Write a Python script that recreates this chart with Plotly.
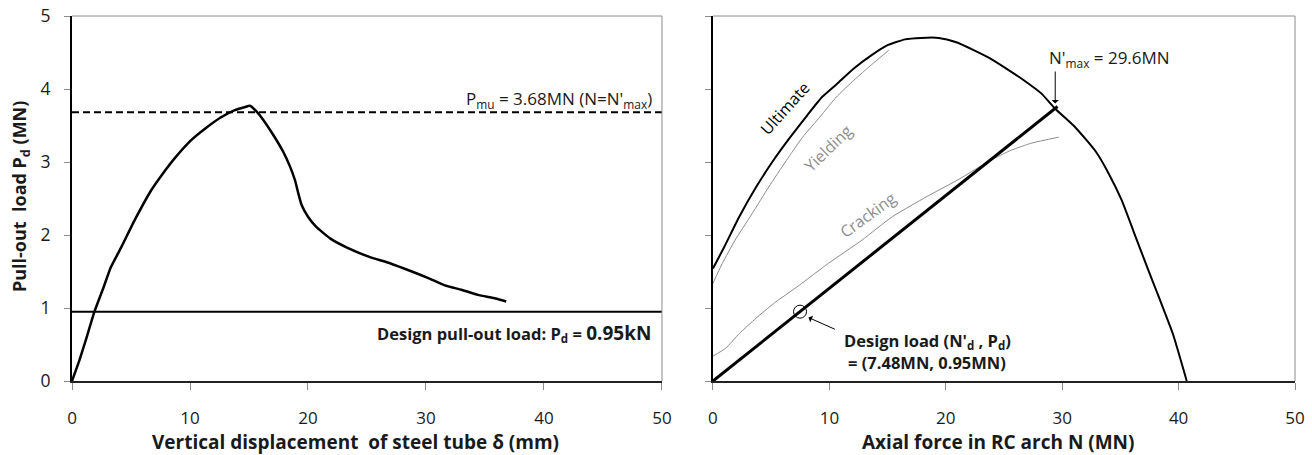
import plotly.graph_objects as go

# ---------------- data: left panel ----------------
disp_mm = [0, 0.64, 1.17, 1.9, 2.6, 3.3, 4.2, 5.3, 6.7, 7.6, 8.8, 10.1, 11.3, 12.6, 13.8,
           14.6, 15.08, 15.65, 16.2, 17.06, 17.9, 18.47, 18.9, 19.18, 19.46, 20.0, 20.7,
           21.9, 23.4, 25.2, 27.0, 28.8, 30.2, 31.6, 33.0, 34.4, 35.9, 36.8]
pullout_MN = [0, 0.29, 0.56, 0.95, 1.25, 1.56, 1.84, 2.2, 2.61, 2.82, 3.07, 3.30, 3.46, 3.61,
              3.71, 3.75, 3.77, 3.69, 3.58, 3.37, 3.14, 2.94, 2.75, 2.57, 2.41, 2.25, 2.11,
              1.95, 1.82, 1.70, 1.61, 1.50, 1.41, 1.31, 1.25, 1.18, 1.13, 1.09]
P_mu = 3.68
P_d = 0.95

# ---------------- data: right panel ----------------
ult_N = [0, 0.98, 2.26, 3.72, 5.18, 6.64, 8.1, 9.37, 10.65, 12.1, 13.6, 15.0, 16.5, 17.9,
         19.4, 20.9, 22.3, 23.8, 25.2, 26.7, 28.2, 29.4, 31.1, 32.9, 34.0, 35.1, 36.2,
         37.3, 38.4, 39.5, 40.7]
ult_P = [1.54, 1.84, 2.25, 2.66, 3.02, 3.34, 3.64, 3.89, 4.07, 4.28, 4.46, 4.60, 4.68, 4.70,
         4.70, 4.64, 4.54, 4.42, 4.28, 4.12, 3.94, 3.73, 3.48, 3.14, 2.84, 2.48, 2.02,
         1.56, 1.11, 0.65, 0]
yld_N = [0, 0.8, 1.9, 3.35, 4.8, 6.3, 7.7, 9.2, 10.6, 12.1, 13.6, 15.1]
yld_P = [1.34, 1.61, 1.93, 2.29, 2.66, 3.02, 3.34, 3.62, 3.89, 4.12, 4.33, 4.53]
crk_N = [0, 1.1, 2.26, 3.7, 5.2, 7.4, 9.9, 12.8, 15.4, 18.3, 21.2, 23.8, 25.6, 27.4, 29.7]
crk_P = [0.34, 0.45, 0.65, 0.86, 1.06, 1.31, 1.61, 1.93, 2.25, 2.52, 2.77, 3.02, 3.16,
         3.26, 3.34]
load_N = [0, 29.6]
load_P = [0, 3.76]
design_N = 7.48
N_max = 29.6

x_ticks = [0, 10, 20, 30, 40, 50]
y_ticks = [0, 1, 2, 3, 4, 5]

FONT = "Open Sans"
GRAY = "#8c8c8c"
TXT = "#1a1a1a"

fig = go.Figure()

# left panel
fig.add_trace(go.Scatter(x=[0, 50], y=[P_mu, P_mu], mode="lines",
                         line=dict(color="black", width=2, dash="7px,4px"),
                         xaxis="x", yaxis="y", showlegend=False))
fig.add_trace(go.Scatter(x=[0, 50], y=[P_d, P_d], mode="lines",
                         line=dict(color="black", width=2),
                         xaxis="x", yaxis="y", showlegend=False))
fig.add_trace(go.Scatter(x=disp_mm, y=pullout_MN, mode="lines",
                         line=dict(color="black", width=2.5, shape="spline", smoothing=0.4),
                         xaxis="x", yaxis="y", showlegend=False))

# right panel
fig.add_trace(go.Scatter(x=yld_N, y=yld_P, mode="lines",
                         line=dict(color=GRAY, width=1, shape="spline", smoothing=0.5),
                         xaxis="x2", yaxis="y2", showlegend=False))
fig.add_trace(go.Scatter(x=crk_N, y=crk_P, mode="lines",
                         line=dict(color=GRAY, width=1, shape="spline", smoothing=0.5),
                         xaxis="x2", yaxis="y2", showlegend=False))
fig.add_trace(go.Scatter(x=ult_N, y=ult_P, mode="lines",
                         line=dict(color="black", width=2, shape="spline", smoothing=0.5),
                         xaxis="x2", yaxis="y2", showlegend=False))
fig.add_trace(go.Scatter(x=load_N, y=load_P, mode="lines",
                         line=dict(color="black", width=3),
                         xaxis="x2", yaxis="y2", showlegend=False))
fig.add_trace(go.Scatter(x=[design_N], y=[P_d], mode="markers",
                         marker=dict(symbol="circle-open", size=13, color="black",
                                     line=dict(width=1, color="black")),
                         xaxis="x2", yaxis="y2", showlegend=False))

def xax(domain, anchor):
    return dict(domain=domain, range=[0, 50], tickvals=x_ticks, showgrid=False,
                zeroline=False, showline=True, linecolor="#222", linewidth=1.5,
                ticks="outside", ticklen=7, tickcolor=GRAY, ticklabelstandoff=14,
                anchor=anchor, automargin=False,
                tickfont=dict(family=FONT, size=17, color=TXT))

def yax(anchor, showlabels):
    return dict(domain=[0, 1], range=[0, 5], tickvals=y_ticks, showgrid=False,
                zeroline=False, showline=True, linecolor="black", linewidth=2,
                ticks="outside", ticklen=6, tickcolor=GRAY, anchor=anchor,
                showticklabels=showlabels, ticklabelstandoff=10, automargin=False,
                tickfont=dict(family=FONT, size=17.5, color=TXT))

fig.update_layout(
    width=1312, height=455,
    margin=dict(l=72, r=17, t=16, b=74),
    plot_bgcolor="white", paper_bgcolor="white",
    font=dict(family=FONT, color=TXT),
    xaxis=xax([0, 0.4824], "y"),
    yaxis=yax("x", True),
    xaxis2=xax([0.5241, 1], "y2"),
    yaxis2=yax("x2", False),
)

# top and right frame lines of each panel (thin gray)
for xr, yr in [("x domain", "y domain"), ("x2 domain", "y2 domain")]:
    fig.add_shape(type="line", xref=xr, yref=yr, x0=1, x1=1, y0=0, y1=1,
                  line=dict(color=GRAY, width=1))
    fig.add_shape(type="line", xref=xr, yref=yr, x0=0, x1=1, y0=1, y1=1,
                  line=dict(color=GRAY, width=1))

ann = []
# axis titles
ann.append(dict(x=0.48, y=-0.167, xref="x domain", yref="paper", xanchor="center",
                yanchor="middle", showarrow=False,
                text="<b>Vertical displacement  of steel tube δ (mm)</b>",
                font=dict(family=FONT, size=19, color=TXT)))
ann.append(dict(x=0.49, y=-0.167, xref="x2 domain", yref="paper", xanchor="center",
                yanchor="middle", showarrow=False,
                text="<b>Axial force in RC arch N (MN)</b>",
                font=dict(family=FONT, size=19, color=TXT)))
ann.append(dict(x=-0.0425, y=0.504, xref="paper", yref="paper", xanchor="center",
                yanchor="middle", showarrow=False, textangle=-90,
                text="<b>Pull-out  load P<sub>d</sub> (MN)</b>",
                font=dict(family=FONT, size=18, color=TXT)))
# left panel notes
ann.append(dict(x=49.3, y=3.86, xref="x", yref="y", xanchor="right", yanchor="middle",
                text="P<sub>mu</sub> = 3.68MN (N=N'<sub>max</sub>)", showarrow=False,
                font=dict(family=FONT, size=17, color=TXT)))
ann.append(dict(x=49.2, y=0.66, xref="x", yref="y", xanchor="right", yanchor="middle",
                text="<b>Design pull-out load: P<sub>d</sub> = <span style='font-size:19px'>0.95kN</span></b>",
                showarrow=False, font=dict(family=FONT, size=16.5, color=TXT)))
# right panel notes
ann.append(dict(x=28.7, y=4.42, xref="x2", yref="y2", xanchor="left", yanchor="middle",
                text="N'<sub>max</sub> = 29.6MN", showarrow=False,
                font=dict(family=FONT, size=17, color=TXT)))
ann.append(dict(x=29.4, y=3.80, ax=29.4, ay=4.26, xref="x2", yref="y2",
                axref="x2", ayref="y2", text="", showarrow=True, arrowhead=1,
                arrowsize=1.2, arrowwidth=1, arrowcolor="black"))
ann.append(dict(x=8.2, y=0.87, ax=10.6, ay=0.70, xref="x2", yref="y2",
                axref="x2", ayref="y2", text="", showarrow=True, arrowhead=1,
                arrowsize=1.2, arrowwidth=1, arrowcolor="black"))
ann.append(dict(x=11.1, y=0.55, xref="x2", yref="y2", xanchor="left", yanchor="middle",
                text="<b>Design load (N'<sub>d</sub> , P<sub>d</sub>)</b>", showarrow=False,
                font=dict(family=FONT, size=16.5, color=TXT)))
ann.append(dict(x=11.4, y=0.25, xref="x2", yref="y2", xanchor="left", yanchor="middle",
                text="<b>= (7.48MN, 0.95MN)</b>", showarrow=False,
                font=dict(family=FONT, size=16.5, color=TXT)))
ann.append(dict(x=6.2, y=3.74, xref="x2", yref="y2", text="Ultimate", textangle=-48,
                showarrow=False, font=dict(family=FONT, size=16, color="black")))
ann.append(dict(x=9.9, y=3.19, xref="x2", yref="y2", text="Yielding", textangle=-44,
                showarrow=False, font=dict(family=FONT, size=16, color=GRAY)))
ann.append(dict(x=13.3, y=2.27, xref="x2", yref="y2", text="Cracking", textangle=-36,
                showarrow=False, font=dict(family=FONT, size=16, color=GRAY)))
fig.update_layout(annotations=ann)

# remove the browser's default 8px body margin so the figure sits at the page origin
fig.write_html("out.html", config={"displayModeBar": False},
               post_script="document.body.style.margin='0px';")
